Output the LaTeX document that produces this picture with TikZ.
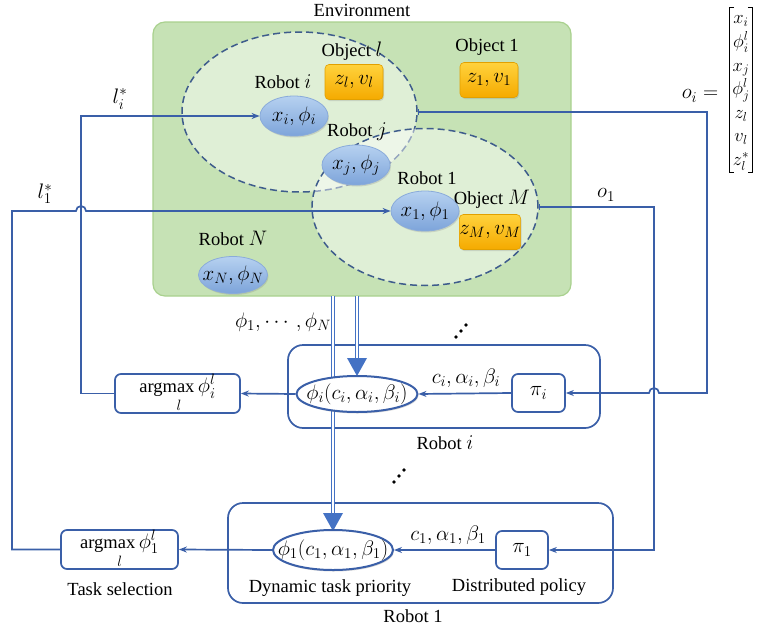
\RequirePackage{fix-cm}
\documentclass[tikz,border=0pt]{standalone}
\usepackage{amsmath}
\usepackage{fontspec}
\setmainfont{Liberation Serif}
\DeclareMathSizes{18.5}{21}{15}{11}
\DeclareMathSizes{16}{18.5}{13}{9.5}
\usetikzlibrary{arrows.meta,shapes.geometric,shadows}
\definecolor{lineblue}{HTML}{3A5FA8}
\definecolor{dashblue}{HTML}{3E5C8C}
\definecolor{envfill}{HTML}{C6E2B5}
\definecolor{envdraw}{HTML}{A9D18E}
\definecolor{arrowblue}{HTML}{4472C4}
\definecolor{robottop}{HTML}{B6D1F0}
\definecolor{robotbot}{HTML}{7DA4DA}
\definecolor{robotdraw}{HTML}{8AABDA}
\definecolor{objtop}{HTML}{FFD23C}
\definecolor{objbot}{HTML}{F5AA00}
\definecolor{objdraw}{HTML}{E2A000}
\begin{document}
\begin{tikzpicture}[x=1pt,y=-1pt,
  every node/.style={font=\fontsize{18.5}{22}\selectfont, text=black},
  conn/.style={draw=lineblue, line width=1.7pt},
  tipend/.style={-{Stealth[length=8pt,width=6pt]}},
  bartip/.style={{Bar[width=6pt]}-{Stealth[length=8pt,width=6pt]}},
  robotnode/.style={ellipse, draw=robotdraw, line width=0.8pt, top color=robottop, bottom color=robotbot,
     minimum width=68pt, minimum height=40pt, inner xsep=-6pt, inner ysep=0pt,
     drop shadow={opacity=0.25, shadow xshift=1pt, shadow yshift=-1.5pt}},
  objnode/.style={rectangle, rounded corners=4pt, draw=objdraw, line width=0.6pt, top color=objtop, bottom color=objbot,
     minimum width=58pt, minimum height=35pt, inner sep=0pt,
     drop shadow={opacity=0.25, shadow xshift=1pt, shadow yshift=-1.5pt}},
  fovnode/.style={ellipse, draw=dashblue, dash pattern=on 7pt off 4pt, line width=1.5pt, fill=white, fill opacity=0.45, inner sep=0pt},
  robotbox/.style={rectangle, rounded corners=15pt, draw=lineblue, line width=1.7pt, inner sep=0pt},
  smallbox/.style={rectangle, rounded corners=6pt, draw=lineblue, line width=1.7pt, inner sep=0pt, fill=white},
  prioritynode/.style={ellipse, draw=lineblue, line width=2pt, fill=white, inner xsep=-16pt, inner ysep=0pt,
     drop shadow={opacity=0.3, shadow xshift=1pt, shadow yshift=-1.5pt}},
  dblline/.style={draw=arrowblue, line width=1.1pt, double=white, double distance=2.4pt},
  dotstyle/.style={fill=black},
  bracketline/.style={draw=black, line width=0.8pt},
]
\useasboundingbox (0,0) rectangle (758,632);

% environment
\node[rectangle, rounded corners=12pt, draw=envdraw, line width=1.2pt, fill=envfill,
      minimum width=418pt, minimum height=274pt, inner sep=0pt] (env) at (362,159) {};
\node (envlabel) at (362,10) {Environment};

% fields of view
\node[fovnode, minimum width=235pt, minimum height=160pt] (fovi) at (299.5,112) {};
\node[fovnode, minimum width=226pt, minimum height=157pt] (fovone) at (425,207) {};

% robots
\node[robotnode] (roboti) at (294,116) {$x_i,\phi_i$};
\node (robotilabel) at (283,82) {Robot $i$};
\node[robotnode] (robotj) at (356,165) {$x_j,\phi_j$};
\node (robotjlabel) at (357,132) {Robot $j$};
\node[robotnode] (robotone) at (425,211) {$x_1,\phi_1$};
\node (robotonelabel) at (427,178) {Robot 1};
\node[robotnode, minimum height=37pt] (robotn) at (233,275) {$x_N,\phi_N$};
\node (robotnlabel) at (233,238) {Robot $N$};

% objects
\node[objnode] (objl) at (354,82) {$z_l,v_l$};
\node (objllabel) at (352,51) {Object $l$};
\node[objnode] (objone) at (489,80) {$z_1,v_1$};
\node (objonelabel) at (487,47) {Object 1};
\node[objnode, minimum width=60pt] (objm) at (490,232) {$z_M,v_M$};
\node (objmlabel) at (492,199) {Object $M$};

% observation vector
\node (oilabel) at (700,96) {$o_i=$};
\node[inner xsep=3pt, inner ysep=0pt] (obsvec) at (741,90) {\fontsize{16}{20}\selectfont\renewcommand{\arraystretch}{1.18}$\begin{array}{@{}c@{}}x_i\\ \phi_i^l\\ x_j\\ \phi_j^l\\ z_l\\ v_l\\ z_l^*\end{array}$};
\draw[bracketline] ([xshift=5pt]obsvec.north west) -- (obsvec.north west) -- (obsvec.south west) -- ([xshift=5pt]obsvec.south west);
\draw[bracketline] ([xshift=-5pt]obsvec.north east) -- (obsvec.north east) -- (obsvec.south east) -- ([xshift=-5pt]obsvec.south east);

% robot boxes
\node[robotbox, minimum width=312pt, minimum height=83pt] (boxi) at (444,386.5) {};
\node (boxilabel) at (445,443) {Robot $i$};
\node[robotbox, minimum width=385pt, minimum height=100pt] (boxone) at (420.5,553) {};
\node (boxonelabel) at (413,616) {Robot 1};

% broadcast double arrows
\coordinate (dlonestart) at (333,296);
\coordinate (dloneend) at (333,513);
\coordinate (dlonetip) at (333,531);
\coordinate (dlistart) at (357,296);
\coordinate (dliend) at (357,358);
\coordinate (dlitip) at (357,376);
\draw[dblline] (dlonestart) -- (dloneend);
\draw[dblline] (dlistart) -- (dliend);
\fill[arrowblue] ([xshift=-10pt]dloneend) -- ([xshift=10pt]dloneend) -- (dlonetip) -- cycle;
\fill[arrowblue] ([xshift=-10pt]dliend) -- ([xshift=10pt]dliend) -- (dlitip) -- cycle;
\node (phiall) at (283,322) {$\phi_1,\cdots,\phi_N$};

% robot i internals
\node[smallbox, minimum width=125pt, minimum height=39pt] (argi) at (177.5,393.5) {$\mathop{\mbox{argmax}}\limits_{\hskip24pt l}\phi_i^l$};
\node[prioritynode, minimum width=121pt, minimum height=36pt] (phii) at (357,394) {$\phi_i(c_i,\alpha_i,\beta_i)$};
\node[smallbox, minimum width=53pt, minimum height=38pt] (pii) at (538.5,393) {$\pi_i$};
\node (cabi) at (466,378) {$c_i,\alpha_i,\beta_i$};

% robot 1 internals
\node[smallbox, minimum width=117pt, minimum height=39pt] (argone) at (119.5,549.5) {$\mathop{\mbox{argmax}}\limits_{\hskip24pt l}\phi_1^l$};
\node[prioritynode, minimum width=120pt, minimum height=40pt] (phione) at (333,550) {$\phi_1(c_1,\alpha_1,\beta_1)$};
\node[smallbox, minimum width=52pt, minimum height=38pt] (pione) at (522,550) {$\pi_1$};
\node (cabone) at (448,535) {$c_1,\alpha_1,\beta_1$};

\node (tasksel) at (120,589) {Task selection};
\node (dyntask) at (330,588) {Dynamic task priority};
\node (distpol) at (519,587) {Distributed policy};

% dots
\fill[dotstyle] (456,337) circle (1.9pt) (461,331) circle (1.9pt) (466,325) circle (1.9pt);
\fill[dotstyle] (394,482) circle (1.9pt) (399,476) circle (1.9pt) (404,470) circle (1.9pt);

% internal arrows
\draw[conn, tipend] (phii.west) -- (argi.east);
\draw[conn, tipend] (pii.west) -- (phii.east);
\draw[conn, tipend] (phione.west) -- (argone.east);
\draw[conn, tipend] (pione.west) -- (phione.east);

% task feedback lines
\coordinate (licorner) at (81,116);
\coordinate (lonecorner) at (12,211);
\draw[conn, tipend] (argi.west) -- (argi.west -| licorner) -- (licorner) -- (roboti.west);
\node (lilabel) at (120,99) {$l_i^*$};
\draw[conn, tipend] (argone.west) -- (argone.west -| lonecorner) -- (lonecorner) -- (76,211)
   arc[start angle=180, end angle=360, radius=5] -- (robotone.west);
\node (lonelabel) at (45,194) {$l_1^*$};

% observation lines
\coordinate (oicorner) at (707,112);
\draw[conn, bartip] (fovi.east) -- (oicorner) -- (707,393) -- (659,393)
   arc[start angle=0, end angle=-180, radius=5] -- (pii.east);
\coordinate (oonecorner) at (654,207);
\draw[conn, bartip] (fovone.east) -- (oonecorner) -- (pione.east -| oonecorner) -- (pione.east);
\node (oonelabel) at (606,195) {$o_1$};
\end{tikzpicture}
\end{document}
